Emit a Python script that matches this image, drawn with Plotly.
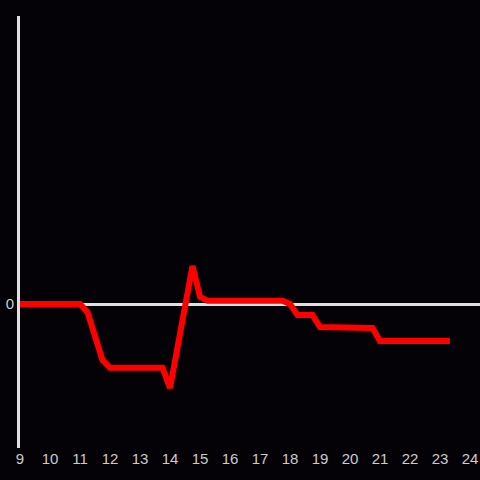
import plotly.graph_objects as go

hours = [9, 11.0, 11.25, 11.75, 12.0, 13.75, 14.0, 14.75, 15.0, 15.25, 17.75, 18.0,
         18.25, 18.75, 19.0, 20.5, 20.75, 21.0, 23.33]
values = [0, 0, -0.17, -1.17, -1.33, -1.33, -1.75, 0.79, 0.15, 0.07, 0.07, 0.0,
          -0.23, -0.23, -0.48, -0.48, -0.5, -0.77, -0.77]
x_ticks = list(range(9, 25))

fig = go.Figure()
fig.add_trace(go.Scatter(x=hours, y=values, mode="lines",
                         line=dict(color="#ff0000", width=6), hoverinfo="skip"))

bg = "#040206"
fig.update_layout(
    width=480, height=480,
    margin=dict(l=20, r=0, t=16, b=32),
    paper_bgcolor=bg, plot_bgcolor=bg,
    showlegend=False,
    font=dict(family="Liberation Sans, Arial, sans-serif", size=15, color="#cccccc"),
)
fig.update_xaxes(range=[9, 9 + 460 / 30], tickvals=x_ticks, ticktext=[str(t) for t in x_ticks],
                 showgrid=False, zeroline=False, showline=False, ticks="",
                 tickfont=dict(size=15, color="#cccccc"))
fig.update_yaxes(range=[-3, 6], tickvals=[0], ticktext=["0"], showgrid=False,
                 zeroline=True, zerolinecolor="#e0e0e0", zerolinewidth=3,
                 showline=True, linecolor="#e0e0e0", linewidth=3, ticks="",
                 tickfont=dict(size=15, color="#cccccc"))

fig.write_html("out.html", config={"displayModeBar": False},
               post_script="document.body.style.margin='0';document.body.style.background='%s';" % bg)
